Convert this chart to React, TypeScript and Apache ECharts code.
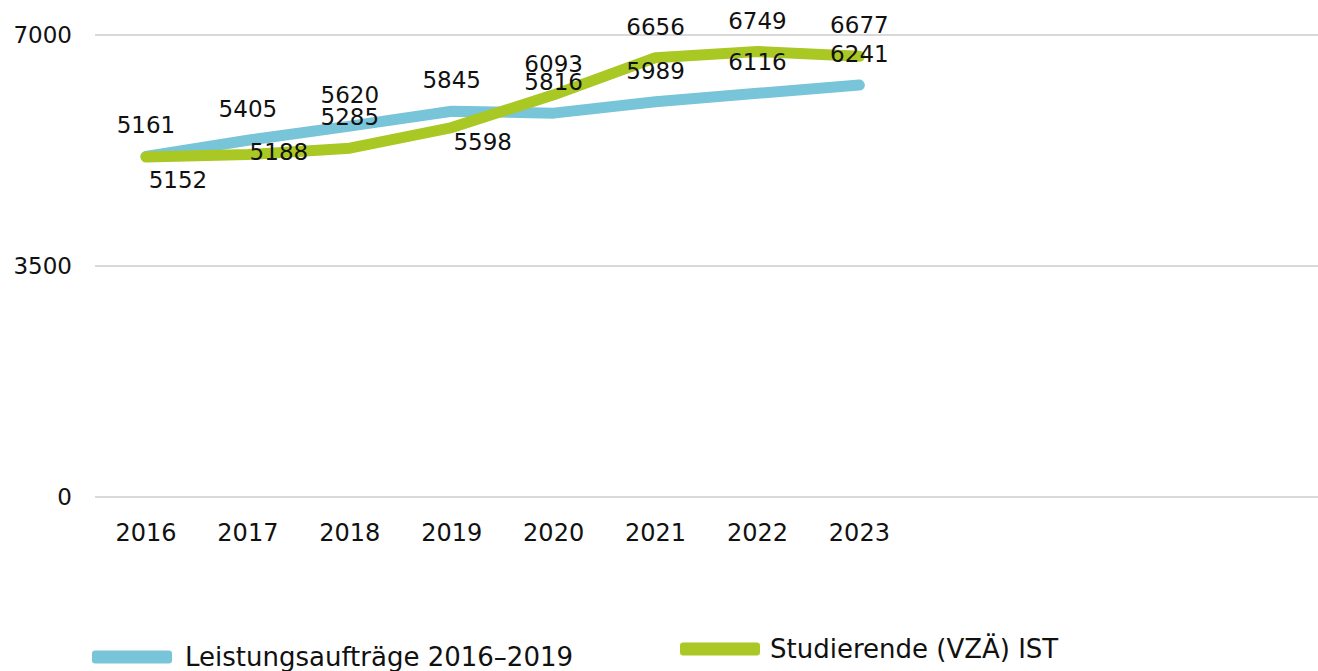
import React, { useEffect, useRef } from "react";
import * as echarts from "echarts";

const years = ["2016", "2017", "2018", "2019", "2020", "2021", "2022", "2023", "", "", "", ""];
const leistungsauftraege = [5161, 5405, 5620, 5845, 5816, 5989, 6116, 6241];
const studierende = [5152, 5188, 5285, 5598, 6093, 6656, 6749, 6677];
const yTicks = { min: 0, max: 7000, interval: 3500 };
const seriesNames = ["Leistungsaufträge 2016–2019", "Studierende (VZÄ) IST"];

const FONT = "DejaVu Sans, Verdana, sans-serif";
const BLUE = "#78c4d8";
const GREEN = "#a9c824";

const greenOffsets: Record<number, [number, number]> = {
  0: [32, 23],
  1: [31, -3],
  3: [31, 14],
};

export default function App() {
  const ref = useRef<HTMLDivElement>(null);
  useEffect(() => {
    document.body.style.margin = "0";
    const chart = echarts.init(ref.current!, undefined, { renderer: "svg" });
    const labelBase = {
      show: true,
      position: "inside",
      offset: [0, -31],
      fontFamily: FONT,
      fontSize: 23,
      color: "#111",
    };
    const lineSeries = (name: string, data: number[], color: string, z: number) => ({
      name,
      type: "line",
      data,
      showSymbol: false,
      symbol: "none",
      lineStyle: { color, width: 11, cap: "round", join: "round" },
      itemStyle: { color },
      z,
    });
    const labelSeries = (name: string, data: any[]) => ({
      name,
      type: "line",
      data,
      showSymbol: true,
      symbol: "circle",
      symbolSize: 1,
      lineStyle: { color: "rgba(0,0,0,0)", width: 0 },
      itemStyle: { color: "rgba(0,0,0,0)", borderWidth: 0 },
      label: labelBase,
      z: 10,
      silent: true,
    });
    chart.setOption({
      animation: false,
      backgroundColor: "#fff",
      grid: { left: 95, width: 1232, top: 35, bottom: 174, containLabel: false },
      xAxis: {
        type: "category",
        data: years,
        boundaryGap: true,
        axisLine: { show: false },
        axisTick: { show: false },
        axisLabel: { fontFamily: FONT, fontSize: 24, color: "#111", margin: 24, interval: 0 },
      },
      yAxis: {
        type: "value",
        min: yTicks.min,
        max: yTicks.max,
        interval: yTicks.interval,
        axisLine: { show: false },
        axisTick: { show: false },
        axisLabel: {
          fontFamily: FONT,
          fontSize: 23,
          color: "#111",
          margin: 23,
          formatter: (v: number) => String(v),
        },
        splitLine: { lineStyle: { color: "#d9d9d9", width: 2 } },
      },
      legend: [
        {
          data: [seriesNames[0]],
          left: 92,
          top: 644,
          padding: 0,
          icon: "roundRect",
          itemWidth: 80,
          itemHeight: 13,
          textStyle: { fontFamily: FONT, fontSize: 26, color: "#111", padding: [0, 0, 0, 8] },
        },
        {
          data: [seriesNames[1]],
          left: 680,
          top: 636,
          padding: 0,
          icon: "roundRect",
          itemWidth: 80,
          itemHeight: 13,
          textStyle: { fontFamily: FONT, fontSize: 26, color: "#111", padding: [0, 0, 0, 5] },
        },
      ],
      series: [
        lineSeries(seriesNames[0], leistungsauftraege, BLUE, 2),
        lineSeries(seriesNames[1], studierende, GREEN, 3),
        labelSeries("labels-a", leistungsauftraege),
        labelSeries(
          "labels-b",
          studierende.map((v, i) =>
            greenOffsets[i] ? { value: v, label: { offset: greenOffsets[i] } } : v
          )
        ),
      ],
    });
    return () => chart.dispose();
  }, []);
  return <div ref={ref} style={{ width: 1318, height: 671 }} />;
}
